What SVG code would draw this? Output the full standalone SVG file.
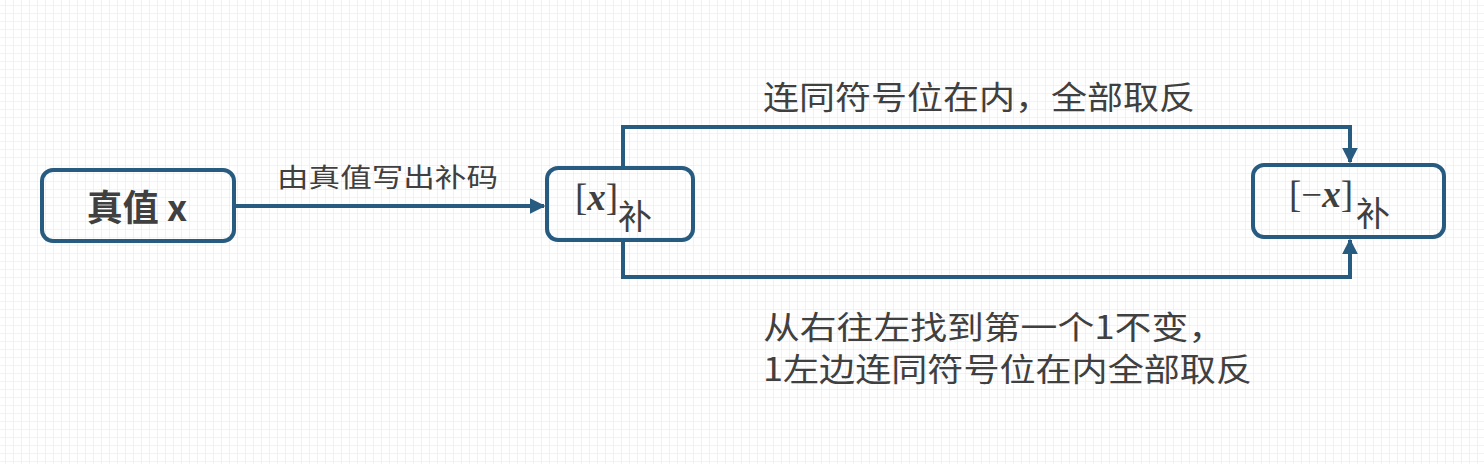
<svg xmlns="http://www.w3.org/2000/svg" width="1484" height="464" viewBox="0 0 1484 464">
<defs>
<pattern id="grid" x="5" y="5" width="8" height="8" patternUnits="userSpaceOnUse">
<path d="M0 0H8M0 0V8" fill="none" stroke="#e8e8e8" stroke-width="1.2"/>
</pattern>
<marker id="ah" viewBox="0 0 10 10" refX="9" refY="5" markerWidth="4" markerHeight="4" orient="auto" markerUnits="strokeWidth">
<path d="M0 0L10 5L0 10Z" fill="#285b80"/>
</marker>
<style>
.box{fill:none;stroke:#285b80;stroke-width:4}
.con{fill:none;stroke:#285b80;stroke-width:4}
.t{font-family:"Noto Sans CJK SC","Liberation Sans",sans-serif;fill:#404040}
.m{font-family:"Liberation Serif",serif;fill:#404040}
</style>
</defs>
<rect width="1484" height="464" fill="#ffffff"/>
<rect width="1484" height="464" fill="url(#grid)"/>
<g id="connectors">
<path class="con" d="M234 206H544" marker-end="url(#ah)"/>
<path class="con" d="M623 168V127H1350V162" marker-end="url(#ah)"/>
<path class="con" d="M623 240V277H1350V240" marker-end="url(#ah)"/>
</g>
<g id="node-x">
<rect class="box" x="42" y="170" width="192" height="71" rx="11"/>
<text class="t" x="137" y="221" font-size="36" font-weight="bold" text-anchor="middle">真值 x</text>
</g>
<g id="node-xc">
<rect class="box" x="547" y="168" width="146" height="72" rx="11"/>
<text class="m" x="575" y="210" font-size="37">[<tspan font-style="italic" font-weight="bold">x</tspan>]</text>
<text class="t" x="618" y="229" font-size="34">补</text>
</g>
<g id="node-nxc">
<rect class="box" x="1253" y="165" width="191" height="72" rx="11"/>
<text class="m" x="1289" y="207" font-size="37">[−<tspan font-style="italic" font-weight="bold">x</tspan>]</text>
<text class="t" x="1356" y="226" font-size="34">补</text>
</g>
<g id="labels">
<text class="t" x="277" y="187" font-size="26" textLength="221" lengthAdjust="spacingAndGlyphs">由真值写出补码</text>
<text class="t" x="763" y="109" font-size="32" textLength="432" lengthAdjust="spacingAndGlyphs">连同符号位在内，全部取反</text>
<text class="t" x="763" y="339" font-size="32" textLength="462" lengthAdjust="spacingAndGlyphs">从右往左找到第一个1不变，</text>
<text class="t" x="763" y="381" font-size="32" textLength="489" lengthAdjust="spacingAndGlyphs">1左边连同符号位在内全部取反</text>
</g>
</svg>
